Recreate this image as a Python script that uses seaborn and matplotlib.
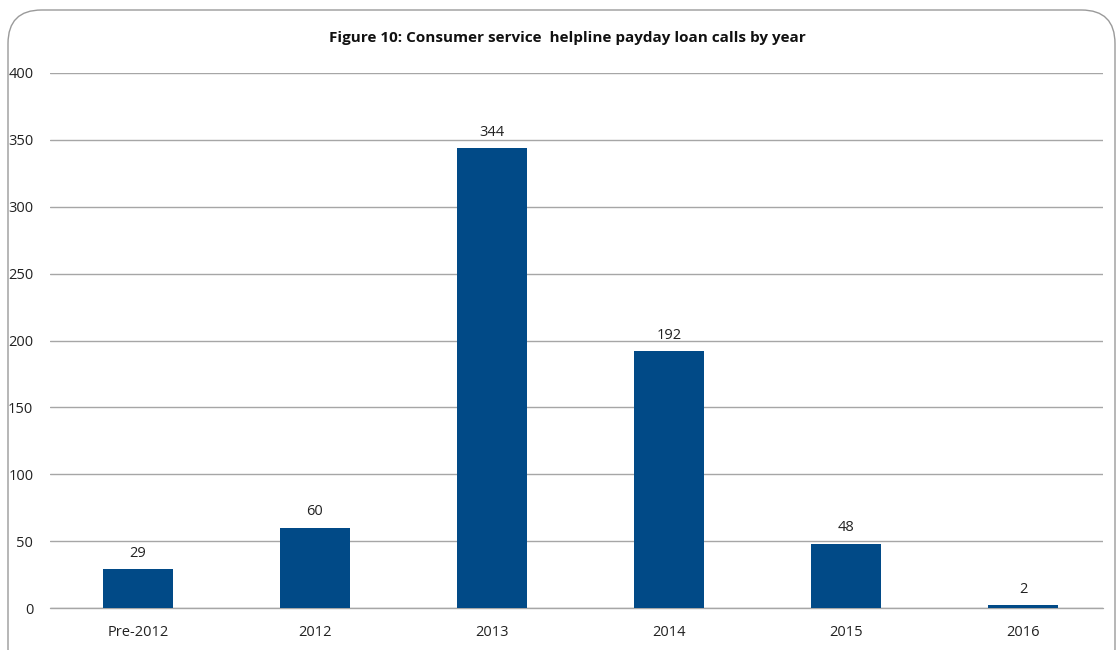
import matplotlib
matplotlib.use("Agg")
import matplotlib.pyplot as plt
import seaborn as sns
import pandas as pd
from matplotlib.patches import FancyBboxPatch

categories = ["Pre-2012", "2012", "2013", "2014", "2015", "2016"]
calls = [29, 60, 344, 192, 48, 2]
yticks = [0, 50, 100, 150, 200, 250, 300, 350, 400]

sns.set_theme(style="white")
plt.rcParams["font.family"] = ["Open Sans", "DejaVu Sans"]

df = pd.DataFrame({"year": categories, "calls": calls})

fig = plt.figure(figsize=(11.19, 6.5), dpi=100)
ax = fig.add_axes([50/1119, 1-608/650, (1103-50)/1119, (608-73)/650])

bar_color = "#014a87"
sns.barplot(data=df, x="year", y="calls", color=bar_color, width=0.4,
            saturation=1, ax=ax, zorder=3, linewidth=0)

ax.set_ylim(0, 400)
ax.set_yticks(yticks)
ax.set_xlim(-0.497, 5.452)
ax.yaxis.grid(True, color="#a6a6a6", linewidth=1.0, zorder=0)
ax.xaxis.grid(False)
for s in ax.spines.values():
    s.set_visible(False)
ax.axhline(0, color="#a6a6a6", linewidth=1.0, zorder=2, clip_on=False)
ax.set_xlabel("")
ax.set_ylabel("")
ax.tick_params(axis="y", length=0, pad=12, labelsize=10.5, labelcolor="#222222")
ax.tick_params(axis="x", length=0, pad=12, labelsize=10.5, labelcolor="#222222")

for c in ax.containers:
    ax.bar_label(c, labels=[str(v) for v in calls], padding=6, fontsize=10.5, color="#222222")

fig.text(0.507, 1-38/650, "Figure 10: Consumer service  helpline payday loan calls by year",
         ha="center", va="center", fontsize=11, fontweight="bold",
         color="#111111")

frame = FancyBboxPatch((8/1119, -0.05), (1115-8)/1119, (650-10)/650 + 0.05,
                       boxstyle="round,pad=0,rounding_size=0.03",
                       transform=fig.transFigure, fill=False,
                       edgecolor="#9a9a9a", linewidth=1.0, mutation_aspect=1119/650)
fig.patches.append(frame)

fig.savefig("out.png", dpi=100, facecolor="white")
